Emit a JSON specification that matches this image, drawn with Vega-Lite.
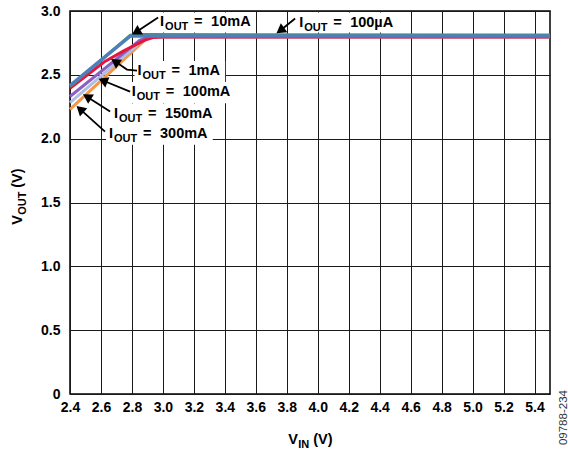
{
  "$schema": "https://vega.github.io/schema/vega-lite/v6.json",
  "width": 480,
  "height": 383,
  "autosize": {"type": "none"},
  "padding": {"left": 70, "top": 11, "right": 18, "bottom": 58},
  "background": "white",
  "config": {
    "view": {"stroke": "#000000", "strokeWidth": 1.5},
    "axis": {"labelFont": "Liberation Sans", "labelFontWeight": "bold", "labelFontSize": 14, "labelColor": "#000000", "gridColor": "#1a1a1a", "gridWidth": 1, "gridOpacity": 1, "ticks": false, "domain": false, "labelFlush": false, "labelOverlap": false},
    "text": {"font": "Liberation Sans", "fontWeight": "bold", "fontSize": 14.5, "align": "left", "baseline": "alphabetic", "color": "#000000"}
  },
  "datasets": {
    "curves": [
      {"s": "300mA", "vin": 2.4, "vout": 2.23},
      {"s": "300mA", "vin": 2.89, "vout": 2.78},
      {"s": "300mA", "vin": 2.95, "vout": 2.798},
      {"s": "300mA", "vin": 5.5, "vout": 2.798},
      {"s": "150mA", "vin": 2.4, "vout": 2.283},
      {"s": "150mA", "vin": 2.87, "vout": 2.77},
      {"s": "150mA", "vin": 2.93, "vout": 2.798},
      {"s": "150mA", "vin": 5.5, "vout": 2.798},
      {"s": "100mA", "vin": 2.4, "vout": 2.33},
      {"s": "100mA", "vin": 2.85, "vout": 2.77},
      {"s": "100mA", "vin": 2.91, "vout": 2.798},
      {"s": "100mA", "vin": 5.5, "vout": 2.798},
      {"s": "1mA", "vin": 2.4, "vout": 2.395},
      {"s": "1mA", "vin": 2.62, "vout": 2.6},
      {"s": "1mA", "vin": 2.75, "vout": 2.69},
      {"s": "1mA", "vin": 2.88, "vout": 2.77},
      {"s": "1mA", "vin": 2.94, "vout": 2.793},
      {"s": "1mA", "vin": 3.0, "vout": 2.797},
      {"s": "1mA", "vin": 5.5, "vout": 2.797},
      {"s": "10mA", "vin": 2.4, "vout": 2.41},
      {"s": "10mA", "vin": 2.79, "vout": 2.81},
      {"s": "10mA", "vin": 2.86, "vout": 2.815},
      {"s": "10mA", "vin": 5.5, "vout": 2.812},
      {"s": "100uA", "vin": 2.4, "vout": 2.415},
      {"s": "100uA", "vin": 2.79, "vout": 2.805},
      {"s": "100uA", "vin": 5.5, "vout": 2.805}
    ],
    "boxes": [
      {"vin": 2.962, "vin2": 3.59, "vout": 2.831, "vout2": 2.988},
      {"vin": 3.861, "vin2": 4.524, "vout": 2.831, "vout2": 2.988},
      {"vin": 2.817, "vin2": 3.402, "vout": 2.443, "vout2": 2.608},
      {"vin": 2.779, "vin2": 3.469, "vout": 2.278, "vout2": 2.443},
      {"vin": 2.665, "vin2": 3.354, "vout": 2.11, "vout2": 2.275},
      {"vin": 2.633, "vin2": 3.322, "vout": 1.953, "vout2": 2.118}
    ],
    "arrows": [
      {"id": "a10mA", "vin": 2.969, "vout": 2.949},
      {"id": "a10mA", "vin": 2.835, "vout": 2.842},
      {"id": "a100uA", "vin": 3.854, "vout": 2.941},
      {"id": "a100uA", "vin": 3.764, "vout": 2.853},
      {"id": "a1mA", "vin": 2.833, "vout": 2.533},
      {"id": "a1mA", "vin": 2.768, "vout": 2.541},
      {"id": "a1mA", "vin": 2.697, "vout": 2.6},
      {"id": "a100mA", "vin": 2.788, "vout": 2.369},
      {"id": "a100mA", "vin": 2.62, "vout": 2.452},
      {"id": "a150mA", "vin": 2.659, "vout": 2.212},
      {"id": "a150mA", "vin": 2.517, "vout": 2.323},
      {"id": "a300mA", "vin": 2.626, "vout": 2.055},
      {"id": "a300mA", "vin": 2.472, "vout": 2.224}
    ],
    "heads": [
      {"vin": 2.827, "vout": 2.835, "angle": 239.5},
      {"vin": 3.758, "vout": 2.847, "angle": 233.6},
      {"vin": 2.691, "vout": 2.604, "angle": 303.7},
      {"vin": 2.613, "vout": 2.455, "angle": 291.8},
      {"vin": 2.51, "vout": 2.329, "angle": 302.2},
      {"vin": 2.465, "vout": 2.231, "angle": 311.8}
    ],
    "labels": [
      {"lbl": "10mA", "vin": 2.982, "vout": 2.881},
      {"lbl": "100µA", "vin": 3.88, "vout": 2.878},
      {"lbl": "1mA", "vin": 2.836, "vout": 2.498},
      {"lbl": "100mA", "vin": 2.799, "vout": 2.333},
      {"lbl": "150mA", "vin": 2.684, "vout": 2.165},
      {"lbl": "300mA", "vin": 2.652, "vout": 2.008}
    ]
  },
  "encoding": {
    "x": {"field": "vin", "type": "quantitative", "title": null,
      "scale": {"domain": [2.4, 5.5], "nice": false, "zero": false},
      "axis": {"values": [2.4, 2.6, 2.8, 3.0, 3.2, 3.4, 3.6, 3.8, 4.0, 4.2, 4.4, 4.6, 4.8, 5.0, 5.2, 5.4], "format": ".1f", "labelPadding": 6, "grid": true}},
    "y": {"field": "vout", "type": "quantitative", "title": null,
      "scale": {"domain": [0, 3], "nice": false, "zero": false},
      "axis": {"values": [0, 0.5, 1.0, 1.5, 2.0, 2.5, 3.0], "labelExpr": "datum.value == 0 ? '0' : format(datum.value, '.1f')", "labelPadding": 10, "grid": true}}
  },
  "layer": [
    {"data": {"name": "boxes"}, "mark": {"type": "rect", "color": "white", "opacity": 1},
      "encoding": {"x2": {"field": "vin2"}, "y2": {"field": "vout2"}}},
    {"data": {"name": "curves"}, "transform": [{"filter": "datum.s == '300mA'"}], "mark": {"type": "line", "color": "#f79646", "strokeWidth": 3}},
    {"data": {"name": "curves"}, "transform": [{"filter": "datum.s == '150mA'"}], "mark": {"type": "line", "color": "#aebfe4", "strokeWidth": 3}},
    {"data": {"name": "curves"}, "transform": [{"filter": "datum.s == '100mA'"}], "mark": {"type": "line", "color": "#8c5fc2", "strokeWidth": 3}},
    {"data": {"name": "curves"}, "transform": [{"filter": "datum.s == '1mA'"}], "mark": {"type": "line", "color": "#e3173e", "strokeWidth": 3}},
    {"data": {"name": "curves"}, "transform": [{"filter": "datum.s == '10mA'"}], "mark": {"type": "line", "color": "#3aa05a", "strokeWidth": 3}},
    {"data": {"name": "curves"}, "transform": [{"filter": "datum.s == '100uA'"}], "mark": {"type": "line", "color": "#4f7fbb", "strokeWidth": 3.5}},
    {"data": {"name": "arrows"}, "mark": {"type": "line", "color": "#000000", "strokeWidth": 1.8},
      "encoding": {"detail": {"field": "id"}}},
    {"data": {"name": "heads"}, "mark": {"type": "point", "shape": "triangle-up", "filled": true, "color": "#000000", "opacity": 1, "size": 120, "strokeWidth": 0},
      "encoding": {"angle": {"field": "angle", "type": "quantitative", "scale": null}}},
    {"data": {"name": "labels"}, "mark": {"type": "text", "text": "I", "dx": 0}},
    {"data": {"name": "labels"}, "mark": {"type": "text", "text": "OUT", "fontSize": 11, "dx": 5, "dy": 4}},
    {"data": {"name": "labels"}, "mark": {"type": "text", "text": "=", "dx": 34}},
    {"data": {"name": "labels"}, "mark": {"type": "text", "dx": 51}, "encoding": {"text": {"field": "lbl"}}},
    {"data": {"values": [{"vin": 3.809, "vout": -0.392}]}, "mark": {"type": "text", "text": "V"}},
    {"data": {"values": [{"vin": 3.809, "vout": -0.392}]}, "mark": {"type": "text", "text": "IN", "fontSize": 11, "dx": 10, "dy": 4}},
    {"data": {"values": [{"vin": 3.809, "vout": -0.392}]}, "mark": {"type": "text", "text": "(V)", "dx": 25}},
    {"data": {"values": [{"vin": 2.09, "vout": 1.325}]}, "mark": {"type": "text", "text": "V", "angle": 270}},
    {"data": {"values": [{"vin": 2.09, "vout": 1.325}]}, "mark": {"type": "text", "text": "OUT", "fontSize": 11, "dx": 10, "dy": 4, "angle": 270}},
    {"data": {"values": [{"vin": 2.09, "vout": 1.325}]}, "mark": {"type": "text", "text": "(V)", "dx": 37, "angle": 270}},
    {"data": {"values": [{"vin": 5.61, "vout": -0.4}]}, "mark": {"type": "text", "text": "09788-234", "angle": 270, "fontSize": 11.5, "fontWeight": "normal", "color": "#333333"}}
  ]
}
